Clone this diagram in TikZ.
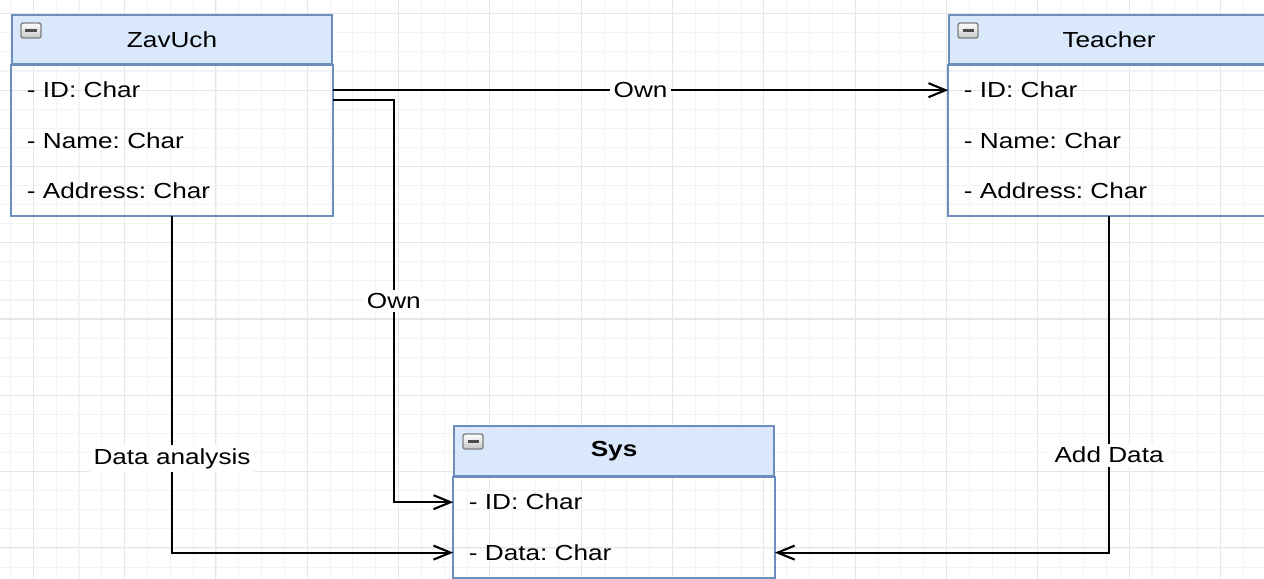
\documentclass[tikz,border=0pt]{standalone}
\usepackage{fontspec}
\setmainfont[FakeStretch=1.2]{Liberation Sans}
\usetikzlibrary{arrows.meta,positioning,calc}
\definecolor{hdrfill}{HTML}{DAE8FC}
\definecolor{hdrline}{HTML}{6C8EBF}
\definecolor{gridminor}{HTML}{F3F3F3}
\definecolor{gridmajor}{HTML}{E6E6E6}
\frenchspacing

\begin{document}
\begin{tikzpicture}[x=0.01cm,y=-0.01cm,
    every node/.style={font=\fontsize{6.2}{7.5}\selectfont},
    classhead/.style={
      rectangle,
      draw=hdrline,
      fill=hdrfill,
      line width=0.55pt,
      minimum width=3.2cm,
      minimum height=0.49cm,
      inner sep=0pt,
      anchor=north west
    },
    attr/.style={
      rectangle,
      minimum height=0.49cm,
      text width=2.9cm,
      inner xsep=0.15cm,
      inner ysep=0pt,
      align=left
    },
    classbox/.style={draw=hdrline, line width=0.55pt},
    minbtn/.style={
      rectangle,
      rounded corners=0.6pt,
      draw=gray,
      top color=white,
      bottom color=gray!45,
      minimum width=0.2cm,
      minimum height=0.15cm,
      inner sep=0pt,
      path picture={\draw[line width=0.7pt,black!70]
        ([xshift=0.045cm]path picture bounding box.west) --
        ([xshift=-0.045cm]path picture bounding box.east);}
    },
    conn/.style={line width=0.6pt, -{Straight Barb[length=1.7mm,width=1.4mm]}},
    lbl/.style={fill=white, inner sep=1pt}
  ]
  \useasboundingbox (0,0) rectangle (1264,579);
  \clip (0,0) rectangle (1264,579);

  % background grid
  \foreach \i in {0,...,55}
    \draw[gridminor,line width=0.3pt] ({10.5+22.83*\i},0) -- ({10.5+22.83*\i},579);
  \foreach \j in {0,...,31}
    \draw[gridminor,line width=0.3pt] (0,{-5.3+19.08*\j}) -- (1264,{-5.3+19.08*\j});
  \foreach \i in {0,...,13}
    \draw[gridmajor,line width=0.3pt] ({33.3+91.33*\i},0) -- ({33.3+91.33*\i},579);
  \foreach \j in {0,...,7}
    \draw[gridmajor,line width=0.3pt] (0,{13.8+76.3*\j}) -- (1264,{13.8+76.3*\j});

  % ZavUch
  \node[classhead] (zavHead) at (11,14) {ZavUch};
  \node[attr,below=0pt of zavHead] (zavID) {- ID: Char};
  \node[attr,below=0pt of zavID] (zavName) {- Name: Char};
  \node[attr,below=0pt of zavName] (zavAddr) {- Address: Char};
  \draw[classbox] (zavHead.south west) rectangle (zavAddr.south east);
  \node[minbtn] (zavBtn) at ($(zavHead.north west)+(20,16.5)$) {};

  % Teacher
  \node[classhead] (teaHead) at (948,14) {Teacher};
  \node[attr,below=0pt of teaHead] (teaID) {- ID: Char};
  \node[attr,below=0pt of teaID] (teaName) {- Name: Char};
  \node[attr,below=0pt of teaName] (teaAddr) {- Address: Char};
  \draw[classbox] (teaHead.south west) rectangle (teaAddr.south east);
  \node[minbtn] (teaBtn) at ($(teaHead.north west)+(20,16.5)$) {};

  % Sys
  \node[classhead,minimum height=0.5cm] (sysHead) at (453,425) {\textbf{Sys}};
  \node[attr,below=0pt of sysHead] (sysID) {- ID: Char};
  \node[attr,below=0pt of sysID] (sysData) {- Data: Char};
  \draw[classbox] (sysHead.south west) rectangle (sysData.south east);
  \node[minbtn] (sysBtn) at ($(sysHead.north west)+(20,16.5)$) {};

  % connectors
  \draw[conn] (zavID.east) -- node[lbl] {Own} (teaID.west);
  \draw[conn] ($(zavID.east)+(0,9.5)$) -- ++(61,0) |- node[lbl,pos=0.25] {Own} (sysID.west);
  \draw[conn] (zavAddr.south) |- node[lbl,pos=0.36] {Data analysis} (sysData.west);
  \draw[conn] (teaAddr.south) |- node[lbl,pos=0.355] {Add Data} (sysData.east);
\end{tikzpicture}
\end{document}
